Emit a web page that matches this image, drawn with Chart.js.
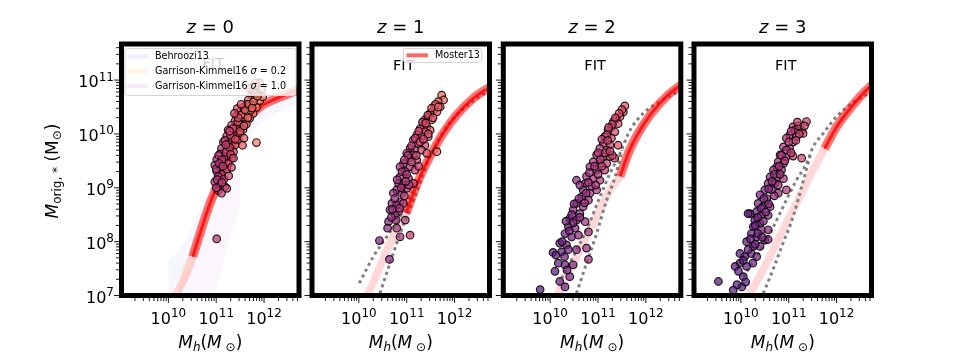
<!DOCTYPE html>
<html><head><meta charset="utf-8">
<script src="https://cdn.jsdelivr.net/npm/chart.js@4.4.1/dist/chart.umd.min.js"></script>
<style>
html,body{margin:0;padding:0;background:#fff}
#wrap{position:relative;width:969px;height:363px;overflow:hidden}
canvas{position:absolute;left:0;top:0}
</style></head>
<body><div id="wrap">
<canvas id="c0" width="969" height="363"></canvas>
<canvas id="c1" width="969" height="363"></canvas>
<canvas id="c2" width="969" height="363"></canvas>
<canvas id="c3" width="969" height="363"></canvas>
</div>
<script>
// ---------------- DATA (log10 values) ----------------
const Z_LABELS = ['0', '1', '2', '3'];
const X_TICK_EXP = [10, 11, 12];
const Y_TICK_EXP = [7, 8, 9, 10, 11];
const X_RANGE_LOG = [9.02, 12.73];
const Y_RANGE_LOG = [7.0, 11.67];

// simulated galaxies: log10 Mh, log10 M*
const P0_LOGMH = [11.91,11.84,11.95,11.77,11.88,11.74,11.81,11.67,11.91,11.63,11.74,11.56,11.84,11.49,11.63,11.77,11.42,11.56,11.70,11.39,11.49,11.63,11.32,11.42,11.56,11.25,11.36,11.49,11.22,11.32,11.46,11.58,11.15,11.25,11.39,11.55,11.11,11.22,11.36,11.08,11.18,11.32,11.01,11.13,11.25,10.97,11.08,11.22,11.01,11.11,11.32,11.04,11.16,10.97,11.08,11.18,11.04,11.11,11.22,11.84,11.01,11.97,11.81,11.72,11.44,
  11.05,11.12,11.20,11.28,11.18,11.30,11.35,11.45,11.52,11.60,11.68,11.78,11.86,11.70,11.82,11.00,11.06,11.14,11.02,11.12,11.26,11.00,11.30,11.40,11.50,11.58,11.66,11.75,11.52,11.46,11.38,11.28,11.20,11.36];
const P0_LOGMS = [10.95,10.89,10.83,10.81,10.74,10.72,10.66,10.63,10.62,10.55,10.54,10.49,10.49,10.41,10.41,10.38,10.33,10.31,10.29,10.24,10.19,10.18,10.16,10.12,10.08,10.07,10.02,10.00,9.96,9.92,9.89,9.92,9.85,9.81,9.79,9.79,9.73,9.70,9.67,9.63,9.58,9.55,9.53,9.48,9.45,9.42,9.38,9.34,9.30,9.25,9.38,9.21,9.16,9.11,9.07,9.02,8.95,8.90,8.99,9.84,8.05,10.69,10.75,10.44,10.47,
  9.60,9.52,9.66,9.75,9.88,9.98,10.10,10.22,10.35,10.45,10.55,10.60,10.70,10.85,10.95,9.35,9.45,9.40,9.15,9.10,9.22,9.00,9.62,9.90,10.05,10.15,10.30,10.48,10.55,10.30,10.38,10.05,9.80,9.55];

const P1_LOGMH = [11.73,11.77,11.66,11.59,11.70,11.56,11.63,11.49,11.45,11.38,11.52,11.35,11.42,11.28,11.49,11.38,11.21,11.31,11.45,11.14,11.24,11.38,11.07,11.17,11.31,11.00,11.14,11.42,11.63,11.04,11.21,10.93,10.86,11.07,11.17,10.97,10.86,11.04,10.83,10.93,11.14,11.00,10.79,10.90,10.72,10.86,10.69,10.79,10.93,10.65,10.83,10.76,10.62,10.60,10.79,10.97,11.07,10.43,10.64,10.86,
  11.60,11.52,11.44,11.33,11.25,11.18,11.10,11.02,10.95,10.90,11.00,10.80,10.88,10.75,10.95,10.70,10.78,10.68,11.28,11.45,11.35,11.20,11.10,11.25,11.55,11.66,11.40,11.05,10.98,10.85];
const P1_LOGMS = [10.72,10.63,10.60,10.53,10.50,10.44,10.41,10.38,10.31,10.26,10.26,10.16,10.13,10.10,10.07,10.04,9.98,9.95,9.95,9.89,9.82,9.79,9.73,9.70,9.70,9.64,9.61,9.64,9.67,9.55,9.51,9.45,9.39,9.39,9.33,9.30,9.20,9.17,9.08,9.05,9.08,8.99,8.96,8.90,8.90,8.74,8.71,8.68,8.71,8.59,8.56,8.49,8.37,8.25,8.25,8.40,8.12,8.02,7.67,8.09,
  10.55,10.48,10.35,10.22,10.05,9.92,9.78,9.60,9.52,9.30,9.25,9.15,9.00,8.80,8.85,8.60,8.40,8.45,9.85,10.00,9.90,9.60,9.48,9.40,10.30,10.50,10.20,9.05,9.12,8.62];

const P2_LOGMH = [11.56,11.53,11.39,11.46,11.32,11.28,11.42,11.21,11.35,11.14,11.28,11.11,11.25,11.04,11.18,11.42,10.97,11.11,11.25,11.35,10.90,11.04,11.18,10.83,10.97,11.14,10.76,10.90,11.04,10.73,10.87,10.97,10.55,10.69,10.83,10.66,10.80,10.55,10.69,10.48,10.62,10.41,10.55,10.73,10.38,10.52,10.31,10.45,10.59,10.20,10.34,10.55,10.24,10.06,10.17,10.31,10.48,10.80,10.41,10.20,9.79,10.31,10.76,10.80,
  11.50,11.44,11.36,11.30,11.22,11.18,11.08,11.20,11.15,11.00,11.05,10.93,11.08,10.82,11.00,10.80,10.95,10.62,10.75,10.60,10.72,10.50,10.62,10.45,10.48,10.33,10.40,10.25,10.38,10.12,10.30,10.10,10.35,11.30,11.25];
const P2_LOGMS = [10.52,10.41,10.29,10.32,10.23,10.13,10.19,10.07,10.04,9.95,9.92,9.82,9.79,9.73,9.70,9.79,9.61,9.58,9.58,9.55,9.48,9.45,9.45,9.39,9.33,9.33,9.21,9.17,9.14,9.08,9.02,8.96,9.14,8.96,8.90,8.83,8.77,8.71,8.65,8.59,8.52,8.43,8.40,8.37,8.28,8.25,8.15,8.09,8.12,7.97,7.94,7.85,7.81,7.80,7.60,7.57,7.57,7.67,7.35,7.26,7.11,7.16,7.88,8.18,
  10.45,10.38,10.30,10.18,10.12,9.98,9.90,9.88,9.65,9.65,9.52,9.40,9.40,9.28,9.25,9.10,9.05,9.05,8.90,8.80,8.72,8.70,8.45,8.50,8.35,8.38,8.20,8.00,7.85,7.75,7.72,7.45,7.47,9.60,9.68];

const P3_LOGMH = [11.37,11.09,11.13,11.27,11.30,11.02,11.16,10.95,11.09,10.89,11.02,10.82,10.95,11.09,11.27,10.78,10.89,10.75,10.85,10.68,10.61,10.75,10.89,10.57,10.71,10.95,10.50,10.64,10.78,10.40,10.54,10.36,10.47,10.61,10.33,10.43,10.57,10.19,10.29,10.40,10.26,10.43,10.57,10.22,10.33,10.50,10.12,10.26,10.40,9.98,10.08,10.22,9.98,10.12,10.33,9.88,10.05,9.84,10.02,9.53,10.15,10.57,
  11.20,11.22,11.05,11.15,11.00,10.95,11.05,10.85,10.92,10.80,10.70,10.82,10.65,10.78,10.58,10.70,10.48,10.58,10.42,10.52,10.35,10.47,10.30,10.36,10.45,10.20,10.30,10.15,10.05,10.25,9.95,10.10,9.92,11.33,11.18];
const P3_LOGMS = [10.23,10.13,10.07,10.07,10.01,9.98,9.95,9.92,9.85,9.76,9.73,9.61,9.58,9.59,9.55,9.48,9.45,9.39,9.33,9.33,9.20,9.20,9.17,9.08,9.08,8.96,8.96,8.96,8.90,8.87,8.80,8.71,8.65,8.65,8.56,8.49,8.49,8.52,8.40,8.34,8.28,8.22,8.22,8.15,8.09,8.03,8.00,7.91,7.91,7.78,7.72,7.78,7.60,7.54,7.72,7.54,7.35,7.10,7.16,7.26,8.52,8.04,
  10.15,10.00,10.05,9.88,9.85,9.70,9.65,9.60,9.50,9.40,9.25,9.25,9.12,9.05,8.98,8.85,8.80,8.70,8.62,8.55,8.45,8.38,8.30,8.15,8.08,8.05,7.95,7.85,7.65,7.60,7.45,7.25,7.20,10.15,10.22];

const SIM_LOGMH = [P0_LOGMH, P1_LOGMH, P2_LOGMH, P3_LOGMH];
const SIM_LOGMS = [P0_LOGMS, P1_LOGMS, P2_LOGMS, P3_LOGMS];

// Moster13: constrained part and pale extrapolated part
const MOSTER_X = [
  [10.51,10.66,10.87,11.08,11.25,11.42,11.63,11.91,12.26,12.61,12.80],
  [10.99,11.14,11.31,11.52,11.76,12.04,12.39,12.74,12.80],
  [11.46,11.66,11.94,12.29,12.67,12.80],
  [11.75,12.00,12.28,12.52,12.69,12.80]];
const MOSTER_Y = [
  [7.72,8.15,8.71,9.17,9.58,9.95,10.26,10.50,10.66,10.78,10.85],
  [8.53,8.90,9.27,9.64,10.01,10.35,10.66,10.87,10.90],
  [9.21,9.70,10.16,10.57,10.87,10.93],
  [9.73,10.13,10.47,10.72,10.87,10.94]];
const MOSTER_PALE_X = [
  [10.05,10.17,10.35,10.51],
  [10.10,10.20,10.41,10.62,10.83,10.99],
  [10.10,10.17,10.41,10.69,10.97,11.25,11.46],
  [10.10,10.19,10.54,10.88,11.23,11.51,11.75]];
const MOSTER_PALE_Y = [
  [6.85,7.04,7.35,7.72],
  [6.85,7.04,7.47,7.91,8.28,8.53],
  [6.92,7.04,7.47,7.97,8.46,8.96,9.21],
  [6.90,7.04,7.60,8.22,8.83,9.33,9.73]];

// grey dotted relations (panels z=1..3)
const DOT_A_X = [null,
  [10.01,10.30,10.58,10.86,11.14,11.42,11.70,11.98,12.32,12.80],
  [10.24,10.48,10.76,11.04,11.25,11.46,11.67,11.94,12.29,12.80],
  [10.05,10.33,10.68,10.95,11.16,11.37,11.51,11.72,12.00,12.28,12.80]];
const DOT_A_Y = [null,
  [7.23,7.72,8.09,8.46,8.96,9.45,9.95,10.29,10.57,10.85],
  [7.32,7.72,8.22,8.83,9.27,9.64,10.07,10.38,10.60,10.85],
  [7.35,7.72,8.28,8.77,9.14,9.45,9.76,10.01,10.32,10.54,10.82]];
const DOT_B_X = [null,
  [10.44,10.65,10.86,11.07,11.28,11.42],
  [10.55,10.76,10.97,11.18,11.36,11.50],
  [10.47,10.68,10.88,11.09,11.27,11.45]];
const DOT_B_Y = [null,
  [7.04,7.60,8.15,8.62,9.10,9.45],
  [7.04,7.60,8.15,8.77,9.21,9.70],
  [7.04,7.50,7.97,8.46,9.02,9.60]];

// z=0 comparison bands
const BEH_X  = [10.0,10.4,10.8,11.2,11.6,12.0,12.4,12.8];
const BEH_HI = [7.60,8.10,8.90,9.60,10.15,10.50,10.70,10.85];
const BEH_LO = [7.00,7.60,8.40,9.20,9.85,10.25,10.45,10.60];
const GK02_X  = [10.2,10.6,11.0,11.4];
const GK02_HI = [7.30,8.20,9.10,9.85];
const GK02_LO = [6.90,7.80,8.75,9.55];
const GK10_X  = [10.15,10.50,10.94,11.20,11.50];
const GK10_HI = [7.00,7.65,8.50,8.95,9.45];
const GK10_LO = [5.50,6.20,7.00,7.80,8.70];

// ---------------- LAYOUT / STYLE ----------------
const W = 969, H = 363;
const AX_LEFT = [121.5, 312.0, 503.3, 694.0];
const AX_W = 177.5, AX_TOP = 44, AX_BOTTOM = 295.5;
const FONT = '"DejaVu Sans"';
const MAGMA = ['#000004','#140e36','#3b0f70','#641a80','#8c2981','#b73779','#de4968','#f7705c','#fe9f6d','#fecf92','#fcfdbf'];
function hex(h){return [parseInt(h.slice(1,3),16),parseInt(h.slice(3,5),16),parseInt(h.slice(5,7),16)];}
function magma(t,a){t=Math.max(0,Math.min(1,t));const f=t*10,i=Math.min(9,Math.floor(f)),u=f-i;const A=hex(MAGMA[i]),B=hex(MAGMA[i+1]);
  return `rgba(${Math.round(A[0]+(B[0]-A[0])*u)},${Math.round(A[1]+(B[1]-A[1])*u)},${Math.round(A[2]+(B[2]-A[2])*u)},${a})`;}
function ptColor(x){const lx=Math.log10(x);return magma(Math.max(0.27,0.2+(lx-9.8)*0.25),0.72);}
function pts(xs,ys){return xs.map((v,k)=>({x:10**v,y:10**ys[k]}));}

function lineDs(xs,ys,color,width,order,extra){
  return Object.assign({type:'line',data:pts(xs,ys),borderColor:color,borderWidth:width,pointRadius:0,
    fill:false,cubicInterpolationMode:'monotone',order:order,borderCapStyle:'butt'},extra||{});
}
function bandDs(xs,hi,lo,color){
  return [
    {type:'line',data:pts(xs,hi),borderWidth:0,borderColor:'rgba(0,0,0,0)',pointRadius:0,fill:'+1',backgroundColor:color,order:9,tension:0.3},
    {type:'line',data:pts(xs,lo),borderWidth:0,borderColor:'rgba(0,0,0,0)',pointRadius:0,fill:false,order:9,tension:0.3}
  ];
}

function drawParts(ctx,parts,x,y,align){
  let w=0;for(const p of parts){ctx.font=p[1];w+=ctx.measureText(p[0]).width;}
  let cx=align==='center'?x-w/2:(align==='right'?x-w:x);
  ctx.textAlign='left';
  for(const p of parts){ctx.font=p[1];ctx.fillText(p[0],cx,y+(p[2]||0));cx+=ctx.measureText(p[0]).width;}
}

const deco = {
  id:'deco',
  afterDatasetsDraw(chart,args,opts){
    const ctx=chart.ctx,a=chart.chartArea,i=opts.panel;
    const xs=chart.scales.x, ys=chart.scales.y;
    const cxp=(a.left+a.right)/2;
    ctx.save();
    ctx.fillStyle='#000';
    // FIT
    ctx.font='14.5px '+FONT;ctx.textAlign='center';ctx.textBaseline='middle';
    ctx.fillText('FIT',cxp+3,i===0?64:66);
    // legends
    ctx.textBaseline='middle';
    if(i===0){
      ctx.fillStyle='rgba(255,255,255,0.8)';ctx.strokeStyle='#d4d4d4';ctx.lineWidth=1;
      ctx.beginPath();ctx.roundRect(125,48.5,171,47,2.5);ctx.fill();ctx.stroke();
      const rows=[['Behroozi13',null,'rgba(110,110,255,0.12)'],['Garrison-Kimmel16 ','0.2','rgba(255,185,80,0.18)'],['Garrison-Kimmel16 ','1.0','rgba(210,140,210,0.18)']];
      rows.forEach((r,k)=>{
        const yy=56.5+k*14.8;
        ctx.strokeStyle=r[2];ctx.lineWidth=4;ctx.beginPath();ctx.moveTo(127,yy);ctx.lineTo(148,yy);ctx.stroke();
        ctx.fillStyle='#000';
        if(r[1]===null) drawParts(ctx,[[r[0],'9.6px '+FONT]],155,yy,'left');
        else drawParts(ctx,[[r[0],'9.6px '+FONT],['σ','italic 9.6px '+FONT],[' = '+r[1],'9.6px '+FONT]],155,yy,'left');
      });
    }
    if(i===1){
      ctx.fillStyle='rgba(255,255,255,0.8)';ctx.strokeStyle='#d4d4d4';ctx.lineWidth=1;
      ctx.beginPath();ctx.roundRect(403.5,48.5,78,14,2.5);ctx.fill();ctx.stroke();
      ctx.strokeStyle='rgba(255,0,0,0.6)';ctx.lineWidth=4;ctx.beginPath();ctx.moveTo(406.5,55.3);ctx.lineTo(428,55.3);ctx.stroke();
      ctx.fillStyle='#000';drawParts(ctx,[['Moster13','9.6px '+FONT]],435,55.5,'left');
    }
    // frame
    ctx.strokeStyle='#000';ctx.lineWidth=5;ctx.lineJoin='miter';
    ctx.strokeRect(a.left,a.top,a.right-a.left,a.bottom-a.top);
    // ticks
    ctx.lineWidth=0.9;
    for(let k=9;k<=12;k++)for(let m=1;m<=9;m++){
      const v=m*10**k; if(v<xs.min||v>xs.max)continue;
      const px=xs.getPixelForValue(v);
      ctx.beginPath();ctx.moveTo(px,a.bottom);ctx.lineTo(px,a.bottom+(m===1?7.5:5.5));ctx.stroke();
    }
    for(let k=7;k<=11;k++)for(let m=1;m<=9;m++){
      const v=m*10**k; if(v<ys.min||v>ys.max)continue;
      const py=ys.getPixelForValue(v);
      ctx.beginPath();ctx.moveTo(a.left,py);ctx.lineTo(a.left-(m===1?7.5:5.5),py);ctx.stroke();
    }
    // x tick labels
    ctx.fillStyle='#000';ctx.textBaseline='alphabetic';
    X_TICK_EXP.forEach(e=>{
      const px=xs.getPixelForValue(10**e);
      drawParts(ctx,[['10','16px '+FONT],[String(e),'12px '+FONT,-6.5]],px,323.5,'center');
    });
    if(i===0){
      Y_TICK_EXP.forEach(e=>{
        const py=ys.getPixelForValue(10**e);
        drawParts(ctx,[['10','16px '+FONT],[String(e),'12px '+FONT,-6.5]],114,py+7,'right');
      });
      ctx.save();ctx.translate(57.5,171);ctx.rotate(-Math.PI/2);
      drawParts(ctx,[['M','italic 17px '+FONT],['orig, *','12px '+FONT,3.5],[' (M','17px '+FONT],['⊙','12px '+FONT,3.5],[')','17px '+FONT]],0,0,'center');
      ctx.restore();
    }
    // title
    drawParts(ctx,[['z','italic 18px '+FONT],[' = '+Z_LABELS[i],'18px '+FONT]],cxp,33,'center');
    // x label
    drawParts(ctx,[['M','italic 17px '+FONT],['h','italic 12px '+FONT,3.5],['(','17px '+FONT],['M','italic 17px '+FONT],[' ⊙','12px '+FONT,3.5],[')','17px '+FONT]],cxp,347.5,'center');
    ctx.restore();
  }
};

function makeChart(i){
  const L=AX_LEFT[i],R=L+AX_W;
  const ds=[];
  ds.push({type:'scatter',data:pts(SIM_LOGMH[i],SIM_LOGMS[i]),pointRadius:3.8,pointBorderWidth:1.2,
    pointBackgroundColor:c=>ptColor(c.raw.x),pointBorderColor:'rgba(0,0,0,0.85)',order:0});
  ds.push(lineDs(MOSTER_X[i],MOSTER_Y[i],'rgba(255,0,0,0.8)',3,1));
  ds.push(lineDs(MOSTER_X[i],MOSTER_Y[i],'rgba(255,0,0,0.55)',9,2));
  ds.push(lineDs(MOSTER_PALE_X[i],MOSTER_PALE_Y[i],'rgba(255,0,0,0.15)',8,4));
  if(i>0){
    ds.push(lineDs(DOT_A_X[i],DOT_A_Y[i],'rgba(120,120,120,0.95)',3,3,{borderDash:[3,3.5]}));
    ds.push(lineDs(DOT_B_X[i],DOT_B_Y[i],'rgba(120,120,120,0.95)',3,3,{borderDash:[3,3.5]}));
  } else {
    ds.push(...bandDs(BEH_X,BEH_HI,BEH_LO,'rgba(110,110,255,0.06)'));
    ds.push(...bandDs(GK02_X,GK02_HI,GK02_LO,'rgba(255,185,80,0.10)'));
    ds.push(...bandDs(GK10_X,GK10_HI,GK10_LO,'rgba(200,130,200,0.07)'));
  }
  new Chart(document.getElementById('c'+i),{
    type:'scatter',
    data:{datasets:ds},
    options:{
      responsive:false,animation:false,devicePixelRatio:1,events:[],
      layout:{padding:{left:L,right:W-R,top:AX_TOP,bottom:H-AX_BOTTOM}},
      plugins:{legend:{display:false},tooltip:{enabled:false},deco:{panel:i}},
      scales:{
        x:{type:'logarithmic',display:false,min:10**X_RANGE_LOG[0],max:10**X_RANGE_LOG[1]},
        y:{type:'logarithmic',display:false,min:10**Y_RANGE_LOG[0],max:10**Y_RANGE_LOG[1]}
      }
    },
    plugins:[deco]
  });
}
[0,1,2,3].forEach(makeChart);
</script>
</body></html>
